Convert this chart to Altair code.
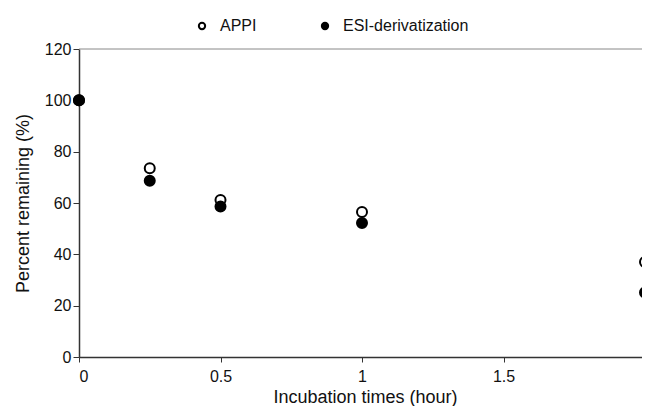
import altair as alt
import pandas as pd

times = [0, 0.25, 0.5, 1, 2]
appi = [100, 73.5, 61.2, 56.5, 37.0]
esi = [100, 68.7, 58.6, 52.2, 25.1]
series_names = ["APPI", "ESI-derivatization"]
x_ticks = [0, 0.5, 1, 1.5, 2]
y_ticks = [0, 20, 40, 60, 80, 100, 120]

rows = []
for t, v in zip(times, appi):
    rows.append({"time": t, "pct": v, "series": series_names[0], "order": 0})
for t, v in zip(times, esi):
    rows.append({"time": t, "pct": v, "series": series_names[1], "order": 1})
df = pd.DataFrame(rows)

FONT = "Liberation Sans"
PLOT_W = 563          # visible plot width (the chart is cut off on the right)
FULL_W = 566          # width the full 0..2 domain would need
PLOT_H = 308
X_MAX = 2 * PLOT_W / FULL_W

x_scale = alt.Scale(domain=[0, X_MAX], nice=False, zero=False)
y_scale = alt.Scale(domain=[0, 120], nice=False)

x_enc = alt.X(
    "time:Q",
    scale=x_scale,
    axis=alt.Axis(
        title="Incubation times (hour)",
        values=x_ticks,
        format="~g",
        grid=False,
        tickSize=5,
        labelPadding=6,
        titlePadding=4,
        titleX=(FULL_W / 2 + 3),
    ),
)
y_enc = alt.Y(
    "pct:Q",
    scale=y_scale,
    axis=alt.Axis(
        title="Percent remaining (%)",
        values=y_ticks,
        grid=False,
        tickSize=6,
        labelPadding=2,
        titlePadding=12,
    ),
)

points = alt.Chart(df).mark_point(
    filled=True, size=100, stroke="black", strokeWidth=2, opacity=1, clip=False
).encode(
    x=x_enc,
    y=y_enc,
    fill=alt.Fill(
        "series:N",
        scale=alt.Scale(domain=series_names, range=["white", "black"]),
        legend=alt.Legend(
            title=None,
            orient="none",
            direction="horizontal",
            legendX=115,
            legendY=-31,
            symbolType="circle",
            symbolSize=40,
            symbolStrokeColor="black",
            symbolStrokeWidth=2,
            labelFontSize=16,
            labelFont=FONT,
            labelColor="#111",
            labelOffset=10,
            columnPadding=60,
            padding=0,
        ),
    ),
    order=alt.Order("order:Q"),
)

top_line = alt.Chart(pd.DataFrame({"y": [120]})).mark_rule(
    color="#888", strokeWidth=1
).encode(y=alt.Y("y:Q", scale=y_scale))

chart = alt.layer(top_line, points).properties(
    width=PLOT_W,
    height=PLOT_H,
    autosize=alt.AutoSizeParams(type="none"),
    padding={"left": 71, "top": 41, "right": 0, "bottom": 49},
).configure_view(stroke=None).configure_axis(
    domainColor="#333",
    domainWidth=1.5,
    tickColor="#333",
    tickWidth=1,
    labelFont=FONT,
    labelFontSize=16,
    labelColor="#111",
    titleFont=FONT,
    titleFontSize=18,
    titleFontWeight="normal",
    titleColor="#111",
)

chart.save("out.html", embed_options={"renderer": "svg", "actions": False})
